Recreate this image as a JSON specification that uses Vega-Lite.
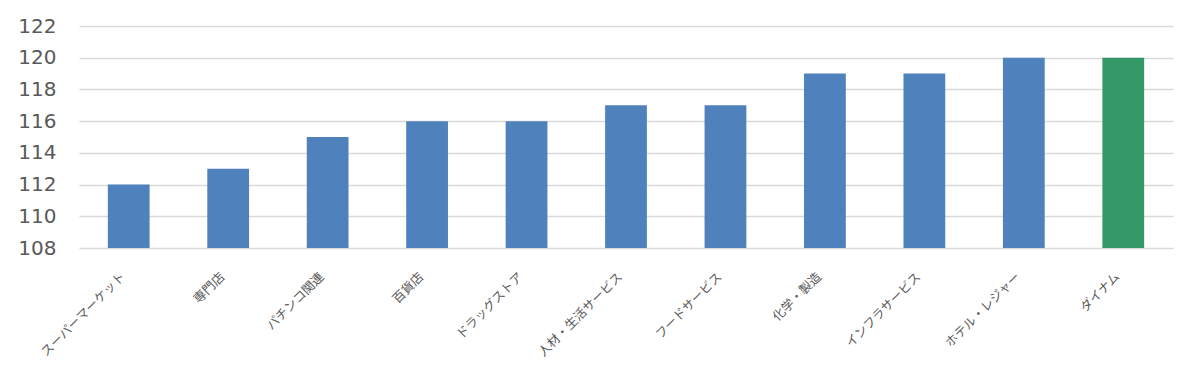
{
  "$schema": "https://vega.github.io/schema/vega-lite/v6.json",
  "width": 1094,
  "height": 222,
  "autosize": {"type": "none"},
  "padding": {"left": 79, "top": 26, "right": 27, "bottom": 141},
  "background": "white",
  "config": {"view": {"stroke": null}},
  "data": {"values": [
    {"category": "スーパーマーケット", "value": 112, "group": "other"},
    {"category": "専門店", "value": 113, "group": "other"},
    {"category": "パチンコ関連", "value": 115, "group": "other"},
    {"category": "百貨店", "value": 116, "group": "other"},
    {"category": "ドラッグストア", "value": 116, "group": "other"},
    {"category": "人材・生活サービス", "value": 117, "group": "other"},
    {"category": "フードサービス", "value": 117, "group": "other"},
    {"category": "化学・製造", "value": 119, "group": "other"},
    {"category": "インフラサービス", "value": 119, "group": "other"},
    {"category": "ホテル・レジャー", "value": 120, "group": "other"},
    {"category": "ダイナム", "value": 120, "group": "dynam"}
  ]},
  "mark": {"type": "bar"},
  "encoding": {
    "x": {
      "field": "category", "type": "nominal", "sort": null,
      "scale": {"paddingInner": 0.58, "paddingOuter": 0.29},
      "axis": {
        "title": null, "domain": false, "ticks": false,
        "labelAngle": -45, "labelAlign": "right", "labelBaseline": "top",
        "labelFont": "Noto Sans CJK JP", "labelFontSize": 12.5, "labelColor": "#595959",
        "labelPadding": 22, "labelOffset": -10, "labelLimit": 300
      }
    },
    "y": {
      "field": "value", "type": "quantitative",
      "scale": {"domain": [108, 122], "zero": false, "nice": false},
      "axis": {
        "title": null, "domain": false, "ticks": false,
        "values": [108, 110, 112, 114, 116, 118, 120, 122],
        "gridColor": "#d9d9d9", "gridWidth": 1.3,
        "labelFont": "DejaVu Sans", "labelFontSize": 20, "labelColor": "#595959",
        "labelPadding": 23
      }
    },
    "y2": {"datum": 108},
    "color": {
      "field": "group", "type": "nominal", "legend": null,
      "scale": {"domain": ["other", "dynam"], "range": ["#4f81bd", "#339966"]}
    }
  }
}
